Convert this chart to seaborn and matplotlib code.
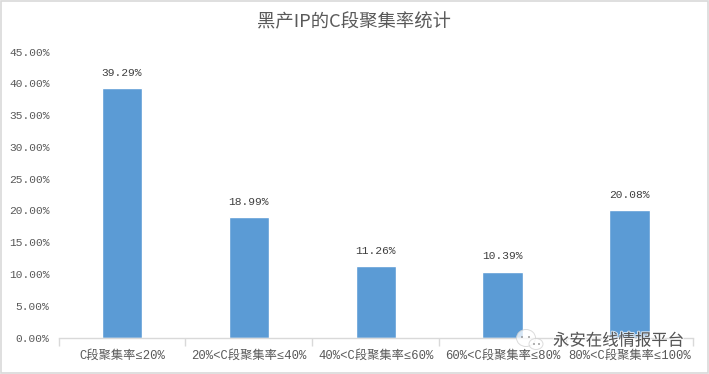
import matplotlib
matplotlib.use("Agg")
import matplotlib.pyplot as plt
import matplotlib.patheffects as pe
from matplotlib.patches import Ellipse, Rectangle
import pandas as pd
import seaborn as sns

categories = ["C段聚集率≤20%", "20%<C段聚集率≤40%", "40%<C段聚集率≤60%",
              "60%<C段聚集率≤80%", "80%<C段聚集率≤100%"]
values = [39.29, 18.99, 11.26, 10.39, 20.08]
y_ticks = [0, 5, 10, 15, 20, 25, 30, 35, 40, 45]
title = "黑产IP的C段聚集率统计"
watermark = "永安在线情报平台"

sns.set_theme(style="white")
mono = ["Liberation Mono", "Noto Sans CJK SC", "DejaVu Sans"]
plt.rcParams["font.family"] = ["Noto Sans CJK SC", "DejaVu Sans"]
W, H = 709, 374
fig = plt.figure(figsize=(W / 100, H / 100), dpi=100, facecolor="white")
ax = fig.add_axes([58.5 / W, 1 - 337.7 / H, (693 - 58.5) / W, (337.7 - 51.5) / H])

df = pd.DataFrame({"cat": categories, "val": values})
sns.barplot(data=df, x="cat", y="val", color="#5B9BD5", saturation=1, width=0.318, ax=ax)

TXT = "#595959"
ax.set_xlim(-0.5, 4.5)
ax.set_ylim(0, 45)
ax.set_xlabel("")
ax.set_ylabel("")
ax.set_yticks(y_ticks)
ax.set_yticklabels([f"{v:.2f}%" for v in y_ticks], fontsize=8.1, color=TXT, family=mono)
ax.set_xticks(range(5))
ax.set_xticklabels(categories, fontsize=8.8, color=TXT, family=mono)
ax.tick_params(axis="x", which="major", length=0, pad=8.5)
ax.tick_params(axis="y", length=0, pad=6.5)
ax.set_xticks([i - 0.5 for i in range(6)], minor=True)
ax.tick_params(axis="x", which="minor", length=6, width=1, color="#D9D9D9", bottom=True)
for s in ["top", "right", "left"]:
    ax.spines[s].set_visible(False)
ax.spines["bottom"].set_color("#D9D9D9")
ax.spines["bottom"].set_linewidth(1)

for i, v in enumerate(values):
    ax.annotate(f"{v:.2f}%", (i, v), xytext=(0, 11), textcoords="offset points",
                ha="center", va="center", fontsize=8.1, color="#404040", family=mono)

fig.text(354.5 / W, 1 - 22 / H, title, ha="center", va="center", fontsize=13.2, color=TXT)

# outer frame
fig.add_artist(Rectangle((0.5 / W, 1 - 372.5 / H), 707.5 / W, 372 / H, transform=fig.transFigure,
                         fill=False, ec="#D9D9D9", lw=1.2))

# watermark overlay
fig.add_artist(Ellipse((526 / W, 1 - 338 / H), 19 / W, 17 / H, transform=fig.transFigure,
                       fc="white", ec="#D0D0D0", lw=0.7, alpha=0.75, zorder=5))
fig.add_artist(Ellipse((536 / W, 1 - 344 / H), 14 / W, 11 / H, transform=fig.transFigure,
                       fc="white", ec="#D0D0D0", lw=0.7, alpha=0.75, zorder=5))
for px, py in [(522, 337), (529, 337), (534, 344), (539, 344)]:
    fig.add_artist(Ellipse((px / W, 1 - py / H), 1.8 / W, 1.8 / H, transform=fig.transFigure,
                           fc="#888888", ec="none", zorder=6))
fig.text(618.5 / W, 1 - 341 / H, watermark, ha="center", va="center", fontsize=11.8, color="#555555",
         zorder=6, path_effects=[pe.withStroke(linewidth=1.5, foreground="white", alpha=0.7)])

fig.savefig("out.png", dpi=100)
